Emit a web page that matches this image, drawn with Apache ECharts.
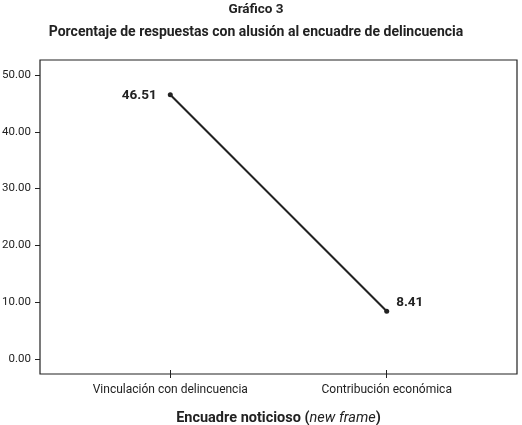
<!DOCTYPE html>
<html>
<head>
<meta charset="utf-8">
<script src="https://cdn.jsdelivr.net/npm/echarts@6/dist/echarts.min.js"></script>
<style>
  html, body { margin: 0; padding: 0; background: #fff; }
  #chart { width: 522px; height: 425px; }
</style>
</head>
<body>
<div id="chart"></div>
<script>
// categorias y valores del grafico
var categories = ["Vinculación con delincuencia", "Contribución económica"];
var values = [46.51, 8.41];
var yTicks = [0, 10, 20, 30, 40, 50];

var font = "Roboto, 'Liberation Sans', sans-serif";
var ink = "#222";

var chart = echarts.init(document.getElementById("chart"));

chart.setOption({
  backgroundColor: "#fff",
  animation: false,
  // titulos centrados un poco a la izquierda, como en el original
  graphic: [
    {
      type: "text",
      x: 256,
      y: 10,
      style: {
        text: "Gráfico 3",
        align: "center",
        verticalAlign: "middle",
        font: "bold 13.5px " + font,
        fill: ink
      }
    },
    {
      type: "text",
      x: 256,
      y: 32,
      style: {
        text: "Porcentaje de respuestas con alusión al encuadre de delincuencia",
        align: "center",
        verticalAlign: "middle",
        font: "bold 14px " + font,
        fill: ink
      }
    }
  ],
  grid: {
    left: 40,
    right: 5,
    top: 60,
    bottom: 51,
    outerBoundsMode: "none",
    show: true,
    borderColor: ink,
    borderWidth: 1.2
  },
  xAxis: [
    {
      type: "value",
      position: "bottom",
      min: -0.602,
      max: 1.602,
      splitLine: { show: false },
      axisLine: { show: false, onZero: false },
      axisTick: { show: true, length: 4, lineStyle: { color: ink }, customValues: [0, 1] },
      axisLabel: {
        customValues: [0, 1],
        margin: 10,
        fontFamily: font,
        fontSize: 12,
        color: ink,
        formatter: function (v) { return categories[Math.round(v)] || ""; }
      },
      name: "{b|Encuadre noticioso (}{i|new frame}{b|)}",
      nameLocation: "middle",
      nameGap: 37,
      nameTextStyle: {
        rich: {
          b: { fontFamily: font, fontSize: 14.5, fontWeight: "bold", color: ink },
          i: { fontFamily: font, fontSize: 14.5, fontStyle: "italic", color: ink }
        }
      }
    },
    {
      // parte interior de las marcas del eje x
      type: "value",
      position: "bottom",
      min: -0.602,
      max: 1.602,
      splitLine: { show: false },
      axisLine: { show: false, onZero: false },
      axisTick: { show: true, inside: true, length: 4, lineStyle: { color: ink }, customValues: [0, 1] },
      axisLabel: { show: false }
    }
  ],
  yAxis: {
    type: "value",
    min: -2.64,
    max: 52.64,
    splitLine: { show: false },
    axisLine: { show: false, onZero: false },
    axisTick: { show: true, length: 5, lineStyle: { color: ink }, customValues: yTicks },
    axisLabel: {
      customValues: yTicks,
      margin: 9,
      fontFamily: font,
      fontSize: 11.5,
      color: ink,
      formatter: function (v) { return v.toFixed(2); }
    }
  },
  series: [
    {
      type: "line",
      xAxisIndex: 0,
      data: categories.map(function (c, i) { return [i, values[i]]; }),
      symbol: "circle",
      symbolSize: 5,
      lineStyle: { color: ink, width: 2 },
      itemStyle: { color: ink },
      label: {
        show: true,
        fontFamily: font,
        fontSize: 13.5,
        fontWeight: "bold",
        color: ink,
        formatter: function (p) { return p.value[1].toFixed(2); }
      },
      labelLayout: function (p) {
        return p.dataIndex === 0
          ? { dx: -31, dy: 15 }
          : { dx: 23, dy: 6 };
      }
    }
  ]
});
</script>
</body>
</html>
